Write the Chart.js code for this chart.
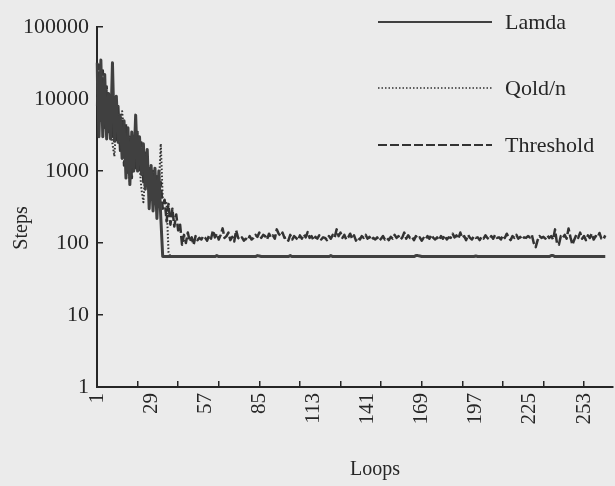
<!DOCTYPE html>
<html>
<head>
<meta charset="utf-8">
<script src="https://cdn.jsdelivr.net/npm/chart.js@4.4.1/dist/chart.umd.min.js"></script>
<style>
  body { margin: 0; background: #ebebeb; }
  #wrap { width: 615px; height: 486px; }
</style>
</head>
<body>
<div id="wrap"><canvas id="chart"></canvas></div>
<script>
// loops 1..268 on the category axis, label every 28, tick mark every 21
const loopLabels = [];
for (let i = 1; i <= 268; i++) loopLabels.push(String(i));
const labelStep = 28;
const tickStep = 21;
const yTicks = [1, 10, 100, 1000, 10000, 100000];

const lamda = [
  32000, 3000, 35000, 3000, 22000, 2800, 12000, 2800, 32000, 2600,
  11000, 2500, 6000, 1500, 5000, 800, 4000, 650, 3500, 1000,
  6000, 1000, 3000, 900, 2400, 560, 2000, 300, 1200, 280,
  1100, 220, 1000, 230,
  65, 65, 65, 65, 65, 65, 65, 65, 65, 65,
  65, 65, 65, 65, 65, 65, 65, 65, 65, 65,
  65, 65, 65, 65, 65, 65, 65, 65, 67, 65,
  65, 65, 65, 65, 65, 65, 65, 65, 65, 65,
  65, 65, 65, 65, 65, 65, 65, 65, 65, 67,
  66, 65, 65, 65, 65, 65, 65, 65, 65, 65,
  65, 65, 65, 65, 65, 65, 67, 65, 65, 65,
  65, 65, 65, 65, 65, 65, 65, 65, 65, 65,
  65, 65, 65, 65, 65, 65, 65, 67, 65, 65,
  65, 65, 65, 65, 65, 65, 65, 65, 65, 65,
  65, 65, 65, 65, 65, 65, 65, 65, 65, 65,
  65, 65, 65, 65, 65, 65, 65, 65, 65, 65,
  65, 65, 65, 65, 65, 65, 65, 65, 65, 65,
  65, 67, 67, 66, 65, 65, 65, 65, 65, 65,
  65, 65, 65, 65, 65, 65, 65, 65, 65, 65,
  65, 65, 65, 65, 65, 65, 65, 65, 65, 65,
  65, 65, 66, 65, 65, 65, 65, 65, 65, 65,
  65, 65, 65, 65, 65, 65, 65, 65, 65, 65,
  65, 65, 65, 65, 65, 65, 65, 65, 65, 65,
  65, 65, 65, 65, 65, 65, 65, 65, 65, 65,
  65, 67, 67, 65, 65, 65, 65, 65, 65, 65,
  65, 65, 65, 65, 65, 65, 65, 65, 65, 65,
  65, 65, 65, 65, 65, 65, 65, 65, 65, 65
];

const qoldN = [
  20000, 8000, 25000, 6000, 15000, 5000, 9000, 4000, 2400, 1600,
  5000, 3000, 4000, 6800, 3400, 2000, 1300, 700, 1500, 1200,
  2000, 1500, 1200, 560, 370, 1000, 800, 600, 500, 700,
  400, 500, 600, 2400, 420, 380, 360, 75, 65
];

const threshold = [
  8000, 30000, 5000, 25000, 4000, 15000, 3500, 10000, 3000, 9000,
  2700, 8000, 1800, 5000, 1200, 4500, 900, 3000, 800, 2500,
  1100, 3500, 1000, 2500, 700, 1800, 600, 1100, 400, 1000,
  350, 900, 400, 700, 300, 400, 200, 350, 180, 300,
  170, 250, 150, 180,
  95, 130, 100, 140, 105, 120, 95, 125, 110, 118,
  112, 125, 118, 108, 128, 115, 150, 120, 135, 112,
  130, 160, 118, 125, 140, 110, 122, 105, 150, 118,
  112, 120, 108, 115, 110, 125, 112, 118, 130, 122,
  140, 118, 130, 125, 112, 135, 120, 128, 115, 155,
  135, 125, 140, 118, 120, 108, 130, 112, 125, 118,
  110, 128, 115, 132, 120, 142, 118, 125, 110, 122,
  115, 128, 112, 120, 118, 110, 125, 115, 130, 120,
  155, 125, 140, 118, 130, 112, 120, 135, 115, 128,
  108, 120, 112, 125, 118, 130, 115, 122, 110, 118,
  112, 120, 108, 115, 125, 112, 118, 110, 122, 115,
  130, 118, 125, 112, 120, 140, 115, 128, 118, 122,
  110, 125, 115, 120, 108, 118, 112, 125, 115, 130,
  118, 112, 120, 110, 125, 115, 128, 112, 120, 118,
  135, 120, 128, 115, 140, 118, 125, 110, 130, 118,
  112, 125, 118, 120, 110, 122, 115, 128, 118, 112,
  125, 115, 130, 118, 120, 112, 128, 118, 135, 120,
  110, 125, 118, 130, 115, 122, 112, 120, 118, 125,
  120, 130, 100, 88, 110, 125, 118, 122, 115, 128,
  118, 125, 112, 155, 100, 95, 125, 118, 130, 115,
  160, 120, 95, 112, 130, 118, 140, 115, 125, 110,
  128, 118, 135, 112, 125, 120, 138, 115, 112, 128
];

const serif = "'Liberation Serif', 'DejaVu Serif', serif";
const ink = '#262626';

// legend rows and axis titles, placed like the scanned figure
const figureText = {
  id: 'figureText',
  afterDraw(chart) {
    const ctx = chart.ctx;
    const baselines = [29, 95, 152];
    ctx.save();
    chart.data.datasets.forEach((ds, i) => {
      const y = baselines[i] - 7;
      ctx.strokeStyle = ds.borderColor;
      ctx.lineWidth = ds.legendWidth;
      ctx.setLineDash(ds.borderDash || []);
      ctx.beginPath();
      ctx.moveTo(378, y);
      ctx.lineTo(492, y);
      ctx.stroke();
      ctx.setLineDash([]);
      ctx.fillStyle = ink;
      ctx.font = '22px ' + serif;
      ctx.textAlign = 'left';
      ctx.textBaseline = 'alphabetic';
      ctx.fillText(ds.label, 505, baselines[i]);
    });

    ctx.font = '20px ' + serif;
    ctx.textAlign = 'center';
    ctx.textBaseline = 'middle';
    ctx.fillText('Loops', 375, 470);
    ctx.translate(22, 228);
    ctx.rotate(-Math.PI / 2);
    ctx.fillText('Steps', 0, 0);
    ctx.restore();
  }
};

new Chart(document.getElementById('chart'), {
  type: 'line',
  data: {
    labels: loopLabels,
    datasets: [
      {
        label: 'Lamda',
        data: lamda,
        borderColor: '#404040',
        borderWidth: 3,
        legendWidth: 2
      },
      {
        label: 'Qold/n',
        data: qoldN,
        borderColor: '#303030',
        borderWidth: 2,
        borderDash: [1.5, 2],
        legendWidth: 1.5
      },
      {
        label: 'Threshold',
        data: threshold,
        borderColor: '#333333',
        borderWidth: 2.5,
        borderDash: [9, 3],
        legendWidth: 2
      }
    ]
  },
  options: {
    responsive: true,
    maintainAspectRatio: false,
    animation: false,
    layout: { padding: { left: 0, right: 2, top: 23, bottom: 0 } },
    elements: {
      point: { radius: 0 },
      line: { tension: 0, borderJoinStyle: 'round' }
    },
    plugins: {
      legend: { display: false },
      tooltip: { enabled: false }
    },
    scales: {
      x: {
        type: 'category',
        offset: false,
        border: { color: ink, width: 2 },
        grid: {
          drawOnChartArea: false,
          tickLength: -6,
          lineWidth: 1.5,
          color: (c) => (c.index > 0 && c.index % tickStep === 0) ? ink : 'rgba(0,0,0,0)'
        },
        ticks: {
          autoSkip: false,
          minRotation: 90,
          maxRotation: 90,
          padding: 12,
          color: ink,
          font: { family: serif, size: 21 },
          callback: function (value, index) {
            return index % labelStep === 0 ? this.getLabelForValue(value) : '';
          }
        },
        afterFit: (scale) => {
          scale.height = 99;
          scale.paddingLeft = 0;
          scale.paddingRight = 0;
        }
      },
      y: {
        type: 'logarithmic',
        min: 1,
        max: 100000,
        border: { color: ink, width: 2 },
        grid: {
          drawOnChartArea: false,
          tickLength: -6,
          lineWidth: 1.5,
          color: ink
        },
        ticks: {
          padding: 14,
          color: ink,
          font: { family: serif, size: 22 },
          callback: (v) => String(v)
        },
        afterBuildTicks: (scale) => { scale.ticks = yTicks.map(v => ({ value: v })); },
        afterFit: (scale) => { scale.width = 97; }
      }
    }
  },
  plugins: [figureText]
});
</script>
</body>
</html>
